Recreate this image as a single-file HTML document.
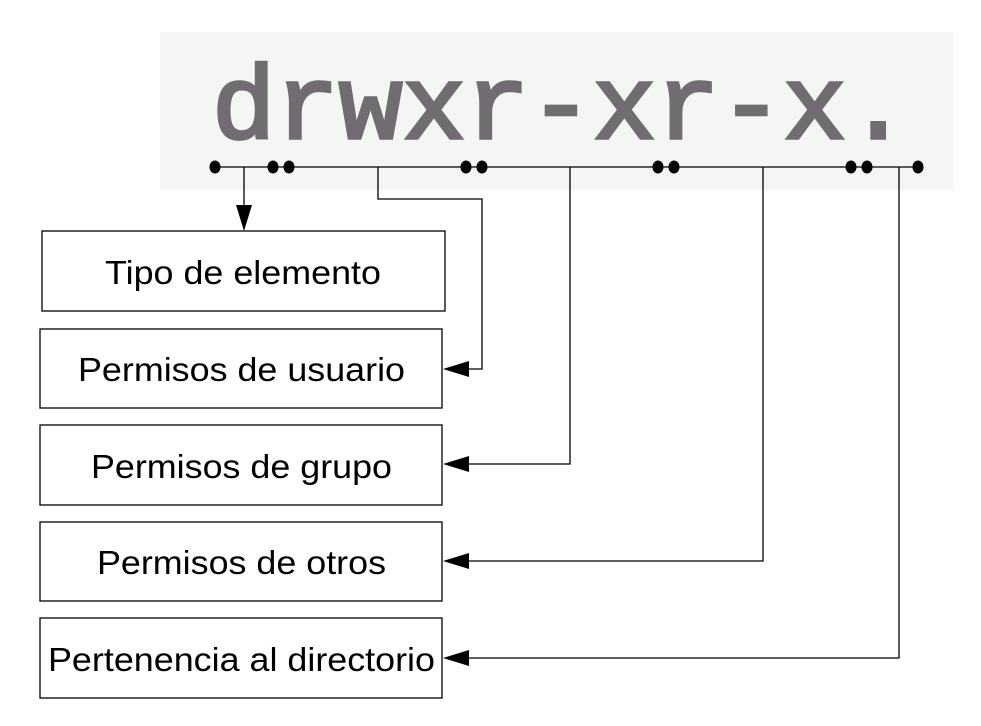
<!DOCTYPE html>
<html><head><meta charset="utf-8"><style>body{margin:0;background:#fff}svg{display:block}</style></head>
<body>
<svg width="981" height="726" viewBox="0 0 981 726" xmlns="http://www.w3.org/2000/svg">
<rect x="160" y="32" width="793" height="158" fill="#f4f6f3"/>
<text x="212" y="138" font-family="Liberation Mono, monospace" font-size="104" fill="#716c71" stroke="#716c71" stroke-width="3.5" textLength="698" lengthAdjust="spacingAndGlyphs">drwxr-xr-x.</text>
<g stroke="#000" stroke-width="1.3" fill="none">
<line x1="215" y1="167" x2="918" y2="167"/>
<polyline points="244,167 244,205"/>
<polyline points="378,167 378,199 482,199 482,369 462,369"/>
<polyline points="570,167 570,464 462,464"/>
<polyline points="763,167 763,561 462,561"/>
<polyline points="899,167 899,658 462,658"/>
<rect x="42" y="231" width="403" height="80"/>
<rect x="40" y="329" width="402" height="79"/>
<rect x="40" y="425" width="402" height="80"/>
<rect x="40" y="522" width="402" height="79"/>
<rect x="40" y="618" width="402" height="80"/>
</g>
<g fill="#000">
<polygon points="236,205 252,205 244,231"/>
<polygon points="443,369 469,361 469,377"/>
<polygon points="443,464 469,456 469,472"/>
<polygon points="443,561 469,553 469,569"/>
<polygon points="443,658 469,650 469,666"/>
<ellipse cx="215" cy="167" rx="5.5" ry="6.5"/>
<ellipse cx="273" cy="167" rx="5.5" ry="6.5"/><ellipse cx="289" cy="167" rx="5.5" ry="6.5"/>
<ellipse cx="466" cy="167" rx="5.5" ry="6.5"/><ellipse cx="482" cy="167" rx="5.5" ry="6.5"/>
<ellipse cx="658" cy="167" rx="5.5" ry="6.5"/><ellipse cx="674" cy="167" rx="5.5" ry="6.5"/>
<ellipse cx="851" cy="167" rx="5.5" ry="6.5"/><ellipse cx="867" cy="167" rx="5.5" ry="6.5"/>
<ellipse cx="918" cy="167" rx="5.5" ry="6.5"/>
</g>
<g font-family="Liberation Sans, sans-serif" font-size="33" fill="#000">
<text x="105" y="284" textLength="276" lengthAdjust="spacingAndGlyphs">Tipo de elemento</text>
<text x="78" y="381" textLength="327" lengthAdjust="spacingAndGlyphs">Permisos de usuario</text>
<text x="91" y="478" textLength="301" lengthAdjust="spacingAndGlyphs">Permisos de grupo</text>
<text x="97" y="574" textLength="289" lengthAdjust="spacingAndGlyphs">Permisos de otros</text>
<text x="48" y="671" textLength="387" lengthAdjust="spacingAndGlyphs">Pertenencia al directorio</text>
</g>
</svg>
</body></html>
